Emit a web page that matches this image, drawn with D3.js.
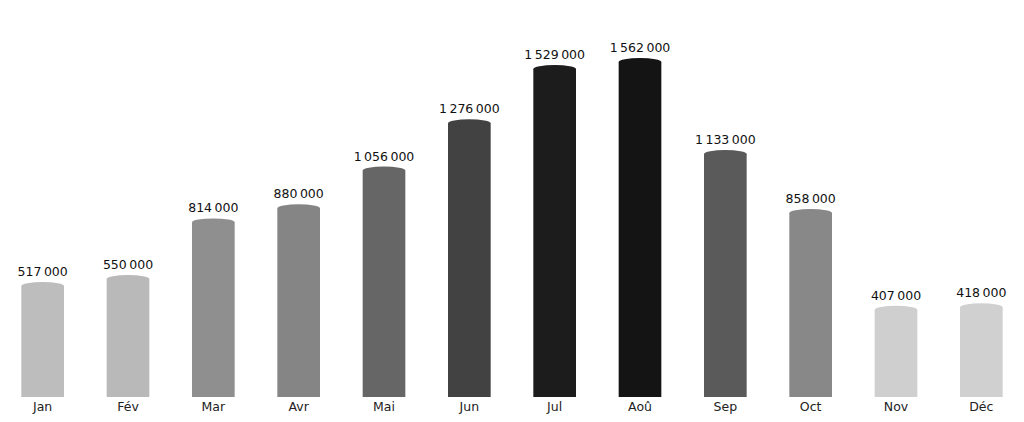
<!DOCTYPE html>
<html><head><meta charset="utf-8">
<script src="https://cdn.jsdelivr.net/npm/d3@7"></script>
<style>body{margin:0;background:#fff}text{font-family:"DejaVu Sans",sans-serif}</style>
</head><body><svg id="c" width="1024" height="422"></svg>
<script>
const categories=["Jan","Fév","Mar","Avr","Mai","Jun","Jul","Aoû","Sep","Oct","Nov","Déc"];
const values=[517000,550000,814000,880000,1056000,1276000,1529000,1562000,1133000,858000,407000,418000];
const colors=["#bdbdbd","#b9b9b9","#8f8f8f","#858585","#666666","#424242","#1c1c1c","#141414","#5a5a5a","#888888","#cfcfcf","#d0d0d0"];
const svg=d3.select("#c");
const base=397;
const x=d3.scaleBand().domain(categories).range([0,1024]).paddingInner(0.5).paddingOuter(0.25);
const y=d3.scaleLinear().domain([0,1562000]).range([base,62]);
const fmt=v=>d3.format(",")(v).replace(/,/g,"\u202f");
const g=svg.selectAll("g.b").data(categories).enter().append("g");
g.append("rect").attr("x",d=>x(d)).attr("width",x.bandwidth()).attr("y",(d,i)=>y(values[i])).attr("height",(d,i)=>base-y(values[i])).attr("fill",(d,i)=>colors[i]);
g.append("ellipse").attr("cx",d=>x(d)+x.bandwidth()/2).attr("cy",(d,i)=>y(values[i])).attr("rx",x.bandwidth()/2).attr("ry",4).attr("fill",(d,i)=>colors[i]);
g.append("text").attr("x",d=>x(d)+x.bandwidth()/2).attr("y",(d,i)=>y(values[i])-10).attr("text-anchor","middle").attr("font-size",12.5).attr("fill","#111").text((d,i)=>fmt(values[i]));
g.append("text").attr("x",d=>x(d)+x.bandwidth()/2).attr("y",411).attr("text-anchor","middle").attr("font-size",12.5).attr("fill","#222").text(d=>d);
</script></body></html>
